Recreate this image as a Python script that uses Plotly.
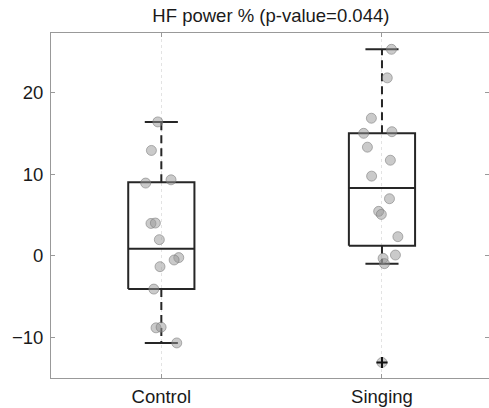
import plotly.graph_objects as go

# ---- data ----
categories = ["Control", "Singing"]
control_values = [16.4, 12.9, 8.9, 9.3, 3.95, 4.0, 1.96, -0.24, -0.53, -1.35, -4.1, -8.85, -8.77, -10.7]
control_jitter = [-0.016, -0.045, -0.071, 0.044, -0.047, -0.027, -0.009, 0.079, 0.058, -0.006, -0.034, -0.024, -0.001, 0.07]
singing_values = [25.3, 21.8, 16.85, 15.0, 15.2, 13.3, 11.7, 9.75, 6.98, 5.43, 5.06, 2.33, 0.08, -0.33, -0.98, -13.1]
singing_jitter = [0.043, 0.024, -0.048, -0.083, 0.045, -0.066, 0.038, -0.047, 0.034, -0.015, -0.003, 0.072, 0.061, 0.005, 0.011, 0.0]
q1 = [-4.1, 1.2]
median = [0.86, 8.3]
q3 = [9.0, 15.0]
whisker_low = [-10.7, -1.0]
whisker_high = [16.4, 25.3]
outliers_cat = [2]
outliers_val = [-13.1]
yticks = [-10, 0, 10, 20]
title = "HF power % (p-value=0.044)"

FONT = "Liberation Sans, Arial, sans-serif"
FS = 18.5
BOXC = "#262626"
AXC = "#999999"
half_box = 0.15
half_cap = 0.075

fig = go.Figure()

positions = [1, 2]
for i, pos in enumerate(positions):
    # whiskers (dashed)
    fig.add_trace(go.Scatter(x=[pos, pos], y=[q3[i], whisker_high[i]], mode="lines",
                             line=dict(color=BOXC, width=2, dash="8px,5px"), showlegend=False, hoverinfo="skip"))
    fig.add_trace(go.Scatter(x=[pos, pos], y=[q1[i], whisker_low[i]], mode="lines",
                             line=dict(color=BOXC, width=2, dash="8px,5px"), showlegend=False, hoverinfo="skip"))
    # caps
    for v in (whisker_high[i], whisker_low[i]):
        fig.add_trace(go.Scatter(x=[pos - half_cap, pos + half_cap], y=[v, v], mode="lines",
                                 line=dict(color=BOXC, width=2), showlegend=False, hoverinfo="skip"))
    # box
    fig.add_trace(go.Scatter(x=[pos - half_box, pos + half_box, pos + half_box, pos - half_box, pos - half_box],
                             y=[q1[i], q1[i], q3[i], q3[i], q1[i]], mode="lines",
                             line=dict(color=BOXC, width=2), showlegend=False, hoverinfo="skip"))
    # median
    fig.add_trace(go.Scatter(x=[pos - half_box, pos + half_box], y=[median[i], median[i]], mode="lines",
                             line=dict(color=BOXC, width=2), showlegend=False, hoverinfo="skip"))

# points
marker = dict(size=10, color="rgba(150,150,150,0.5)", line=dict(color="rgba(120,120,120,0.55)", width=1))
fig.add_trace(go.Scatter(x=[1 + j for j in control_jitter], y=control_values, mode="markers",
                         marker=marker, showlegend=False, hoverinfo="skip"))
fig.add_trace(go.Scatter(x=[2 + j for j in singing_jitter], y=singing_values, mode="markers",
                         marker=marker, showlegend=False, hoverinfo="skip"))

# outliers (+)
fig.add_trace(go.Scatter(x=outliers_cat, y=outliers_val, mode="markers",
                         marker=dict(symbol="cross-thin", size=8, line=dict(color="#111111", width=2)),
                         showlegend=False, hoverinfo="skip"))

fig.update_layout(
    template="none",
    width=489, height=408,
    margin=dict(l=51, r=0, t=33, b=30),
    plot_bgcolor="white", paper_bgcolor="white",
    font=dict(family=FONT, size=FS, color="#1a1a1a"),
    title=dict(text=title, x=0.502, xref="paper", xanchor="center", y=1 - 16 / 408, yanchor="middle",
               font=dict(family=FONT, size=FS, color="#1a1a1a")),
    yaxis2=dict(overlaying="y", side="right", matches="y", tickvals=yticks, showticklabels=False,
                ticks="inside", ticklen=4, tickcolor=AXC, showline=False, showgrid=False,
                zeroline=False, automargin=False),
)
fig.update_xaxes(range=[0.5, 2.485], tickvals=positions, ticktext=categories,
                 showline=True, linecolor=AXC, linewidth=1, mirror="ticks",
                 ticks="inside", ticklen=4, tickcolor=AXC, ticklabelstandoff=2,
                 showgrid=True, gridcolor="#e3e3e3", griddash="dot", gridwidth=1,
                 zeroline=False, automargin=False)
fig.update_layout(yaxis=dict(range=[-15, 27.3], tickvals=yticks,
                             showline=True, linecolor=AXC, linewidth=1, mirror=False,
                             ticks="inside", ticklen=4, tickcolor=AXC, ticklabelstandoff=3,
                             showgrid=False, zeroline=False, automargin=False))
# invisible trace to activate the right-side tick axis
fig.add_trace(go.Scatter(x=[1], y=[0], yaxis="y2", mode="markers", marker=dict(opacity=0),
                         showlegend=False, hoverinfo="skip"))

fig.write_html("out.html", config={"displayModeBar": False, "staticPlot": True},
               post_script="document.body.style.margin='0px';")
